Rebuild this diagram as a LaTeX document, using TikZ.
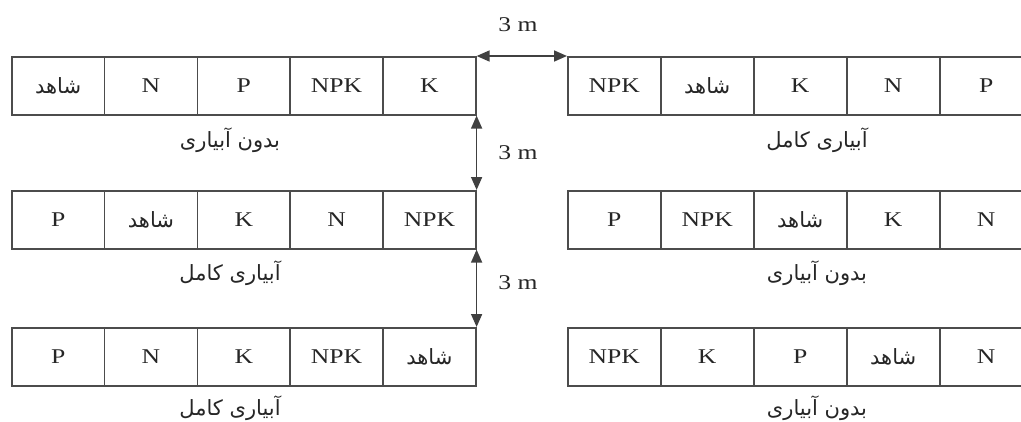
\documentclass[tikz,border=0pt]{standalone}
\usepackage{fontspec}
\setmainfont{Liberation Serif}[FakeStretch=1.22]
\newfontfamily\arabicfont[Script=Arabic]{DejaVu Sans}
\TeXXeTstate=1
\usetikzlibrary{arrows.meta}
\newcommand\artxt[1]{{\arabicfont\beginR #1\endR}}
\begin{document}
\begin{tikzpicture}[x=1pt,y=-1pt,
  cell/.style={draw=black!70, line width=1.6pt, minimum width=92.8pt, minimum height=58pt,
    inner sep=0pt, anchor=north west, font=\fontsize{21}{22}\selectfont, text=black!85},
  lbl/.style={font=\fontsize{21}{24}\selectfont, text=black!85},
  dimline/.style={draw=black!75, line width=1.6pt,
    {Triangle[length=13pt,width=11pt]}-{Triangle[length=13pt,width=11pt]}},
  dimlabel/.style={font=\fontsize{21}{22}\selectfont, text=black!85}]
\useasboundingbox (0,0) rectangle (1021,421);
\clip (0,0) rectangle (1021,421);
% row 1
\foreach \t [count=\i] in {\artxt{\fontsize{21}{22}\selectfont شاهد},N,P,NPK,K}
  \node[cell] (L1-\i) at ({11+(\i-1)*92.8},56) {\t};
\foreach \t [count=\i] in {NPK,\artxt{\fontsize{21}{22}\selectfont شاهد},K,N,P}
  \node[cell] (R1-\i) at ({567+(\i-1)*93},56) {\t};
% row 2
\foreach \t [count=\i] in {P,\artxt{\fontsize{21}{22}\selectfont شاهد},K,N,NPK}
  \node[cell] (L2-\i) at ({11+(\i-1)*92.8},190) {\t};
\foreach \t [count=\i] in {P,NPK,\artxt{\fontsize{21}{22}\selectfont شاهد},K,N}
  \node[cell] (R2-\i) at ({567+(\i-1)*93},190) {\t};
% row 3
\foreach \t [count=\i] in {P,N,K,NPK,\artxt{\fontsize{21}{22}\selectfont شاهد}}
  \node[cell] (L3-\i) at ({11+(\i-1)*92.8},327) {\t};
\foreach \t [count=\i] in {NPK,K,P,\artxt{\fontsize{21}{22}\selectfont شاهد},N}
  \node[cell] (R3-\i) at ({567+(\i-1)*93},327) {\t};
% labels
\node[lbl] (lab-L1) at (230,140) {\artxt{بدون آبیاری}};
\node[lbl] (lab-R1) at (817,140) {\artxt{آبیاری کامل}};
\node[lbl] (lab-L2) at (230,273) {\artxt{آبیاری کامل}};
\node[lbl] (lab-R2) at (817,273) {\artxt{بدون آبیاری}};
\node[lbl] (lab-L3) at (230,408) {\artxt{آبیاری کامل}};
\node[lbl] (lab-R3) at (817,408) {\artxt{بدون آبیاری}};
% dimensions
\draw[dimline] (L1-5.north east) -- (R1-1.north west);
\draw[dimline] (L1-5.south east) -- (L2-5.north east);
\draw[dimline] (L2-5.south east) -- (L3-5.north east);
\node[dimlabel] (d1) at (518,25) {3 m};
\node[dimlabel] (d2) at (518,153) {3 m};
\node[dimlabel] (d3) at (518,283) {3 m};
\end{tikzpicture}
\end{document}
